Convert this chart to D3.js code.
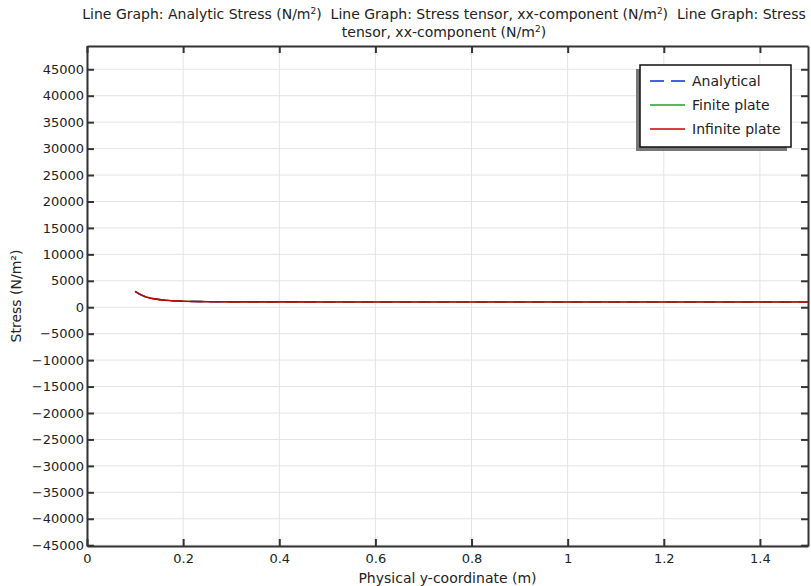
<!DOCTYPE html>
<html>
<head>
<meta charset="utf-8">
<script src="https://cdn.jsdelivr.net/npm/d3@7"></script>
<style>
  body { margin: 0; background: #fff; }
  text { font-family: "DejaVu Sans", sans-serif; fill: #222; }
</style>
</head>
<body>
<div id="chart"></div>
<script>
// Sample positions along y (m)
var yCoord = [0.1, 0.11, 0.12, 0.13, 0.14, 0.15, 0.17, 0.2, 0.25, 0.3, 0.4, 0.5, 0.7, 1.0, 1.25, 1.5];

// Stress values (N/m^2)
var analytical = [3000, 2440, 2050, 1780, 1590, 1450, 1270, 1140, 1050, 1020, 1006, 1003, 1001, 1000, 1000, 1000];
var finitePlate = [3010, 2450, 2060, 1790, 1600, 1460, 1280, 1150, 1060, 1030, 1015, 1010, 1008, 1008, 1010, 1012];
var infinitePlate = [2990, 2430, 2045, 1775, 1585, 1445, 1265, 1135, 1048, 1018, 1005, 1002, 1000, 1000, 1000, 1000];

var xTicks = [0, 0.2, 0.4, 0.6, 0.8, 1, 1.2, 1.4];
var yTicks = d3.range(-45000, 45001, 5000);

var seriesNames = ["Analytical", "Finite plate", "Infinite plate"];

// Dimensions
var svgWidth = 811;
var svgHeight = 586;
var margin = { top: 46, right: 3, bottom: 40, left: 87 };
var chartWidth = svgWidth - margin.left - margin.right;
var chartHeight = svgHeight - margin.top - margin.bottom;

var svg = d3.select("#chart")
  .append("svg")
  .attr("width", svgWidth)
  .attr("height", svgHeight);

var chartGroup = svg.append("g")
  .attr("transform", `translate(${margin.left}, ${margin.top})`);

var xScale = d3.scaleLinear().domain([0, 1.5]).range([0, chartWidth]);
var yScale = d3.scaleLinear().domain([-45150, 49400]).range([chartHeight, 0]);

// Grid lines
chartGroup.append("g")
  .selectAll("line")
  .data(xTicks)
  .enter()
  .append("line")
  .attr("x1", d => xScale(d)).attr("x2", d => xScale(d))
  .attr("y1", 0).attr("y2", chartHeight)
  .attr("stroke", "#e3e3e3");

chartGroup.append("g")
  .selectAll("line")
  .data(yTicks)
  .enter()
  .append("line")
  .attr("x1", 0).attr("x2", chartWidth)
  .attr("y1", d => yScale(d)).attr("y2", d => yScale(d))
  .attr("stroke", "#e3e3e3");

// Axes with inward ticks
var bottomAxis = d3.axisBottom(xScale).tickValues(xTicks).tickSizeInner(-7).tickSizeOuter(0)
  .tickPadding(8).tickFormat(d => d3.format("~g")(d));
var topAxis = d3.axisTop(xScale).tickValues(xTicks).tickSizeInner(-7).tickSizeOuter(0).tickFormat("");
var leftAxis = d3.axisLeft(yScale).tickValues(yTicks).tickSizeInner(-7).tickSizeOuter(0)
  .tickPadding(3).tickFormat(d3.format("d"));
var rightAxis = d3.axisRight(yScale).tickValues(yTicks).tickSizeInner(-7).tickSizeOuter(0).tickFormat("");

function styleAxis(g) {
  g.select(".domain").attr("stroke", "#333").attr("stroke-width", 2);
  g.selectAll(".tick line").attr("stroke", "#333").attr("stroke-width", 2);
  g.selectAll(".tick text").attr("font-size", "13px").attr("fill", "#222")
    .style("font-family", "DejaVu Sans, sans-serif");
}

chartGroup.append("g").attr("transform", `translate(0, ${chartHeight})`).call(bottomAxis).call(styleAxis);
chartGroup.append("g").call(topAxis).call(styleAxis);
chartGroup.append("g").call(leftAxis).call(styleAxis);
chartGroup.append("g").attr("transform", `translate(${chartWidth}, 0)`).call(rightAxis).call(styleAxis);

// Lines
svg.append("defs").append("clipPath").attr("id", "plotClip")
  .append("rect").attr("width", chartWidth).attr("height", chartHeight);

var lineGen = d3.line()
  .x((d, i) => xScale(yCoord[i]))
  .y(d => yScale(d))
  .curve(d3.curveMonotoneX);

var lineGroup = chartGroup.append("g").attr("clip-path", "url(#plotClip)");

lineGroup.append("path").datum(analytical)
  .attr("d", lineGen).attr("fill", "none")
  .attr("stroke", "#0b2fd6").attr("stroke-width", 1.6).attr("stroke-dasharray", "12,7");
lineGroup.append("path").datum(finitePlate)
  .attr("d", lineGen).attr("fill", "none")
  .attr("stroke", "#22a022").attr("stroke-width", 1.3);
lineGroup.append("path").datum(infinitePlate)
  .attr("d", lineGen).attr("fill", "none")
  .attr("stroke", "#c80000").attr("stroke-width", 1.6);

// Legend
var legendX = 640, legendY = 65, legendW = 151, legendH = 82;
svg.append("rect")
  .attr("x", legendX - 4).attr("y", legendY + 4)
  .attr("width", legendW).attr("height", legendH)
  .attr("fill", "#777");
svg.append("rect")
  .attr("x", legendX).attr("y", legendY)
  .attr("width", legendW).attr("height", legendH)
  .attr("fill", "#fff").attr("stroke", "#111").attr("stroke-width", 1.5);

var legendColors = ["#0b2fd6", "#22a022", "#c80000"];
var legendDash = ["14,7", null, null];

var legendRows = svg.append("g")
  .selectAll("g")
  .data(seriesNames)
  .enter()
  .append("g")
  .attr("transform", (d, i) => `translate(${legendX + 10}, ${legendY + 16 + i * 24})`);

legendRows.append("line")
  .attr("x1", 0).attr("x2", 35).attr("y1", 0).attr("y2", 0)
  .attr("stroke", (d, i) => legendColors[i])
  .attr("stroke-width", 1.3)
  .attr("stroke-dasharray", (d, i) => legendDash[i]);

legendRows.append("text")
  .attr("x", 42).attr("y", 5)
  .attr("font-size", "14px")
  .text(d => d);

// Title (two lines, superscripts)
var gap = "\u00a0\u00a0";
var titleX = 444;
var title1 = svg.append("text")
  .attr("x", titleX).attr("y", 19)
  .attr("text-anchor", "middle")
  .attr("font-size", "14px");
title1.append("tspan").text("Line Graph: Analytic Stress (N/m");
title1.append("tspan").attr("baseline-shift", "super").attr("font-size", "9px").text("2");
title1.append("tspan").text(")" + gap + "Line Graph: Stress tensor, xx-component (N/m");
title1.append("tspan").attr("baseline-shift", "super").attr("font-size", "9px").text("2");
title1.append("tspan").text(")" + gap + "Line Graph: Stress");

var title2 = svg.append("text")
  .attr("x", titleX).attr("y", 37)
  .attr("text-anchor", "middle")
  .attr("font-size", "14px");
title2.append("tspan").text("tensor, xx-component (N/m");
title2.append("tspan").attr("baseline-shift", "super").attr("font-size", "9px").text("2");
title2.append("tspan").text(")");

// Axis labels
svg.append("text")
  .attr("x", margin.left + chartWidth / 2).attr("y", 583)
  .attr("text-anchor", "middle")
  .attr("font-size", "14px")
  .text("Physical y-coordinate (m)");

svg.append("text")
  .attr("transform", `translate(21, ${margin.top + chartHeight / 2}) rotate(-90)`)
  .attr("text-anchor", "middle")
  .attr("font-size", "14px")
  .text("Stress (N/m²)");
</script>
</body>
</html>
